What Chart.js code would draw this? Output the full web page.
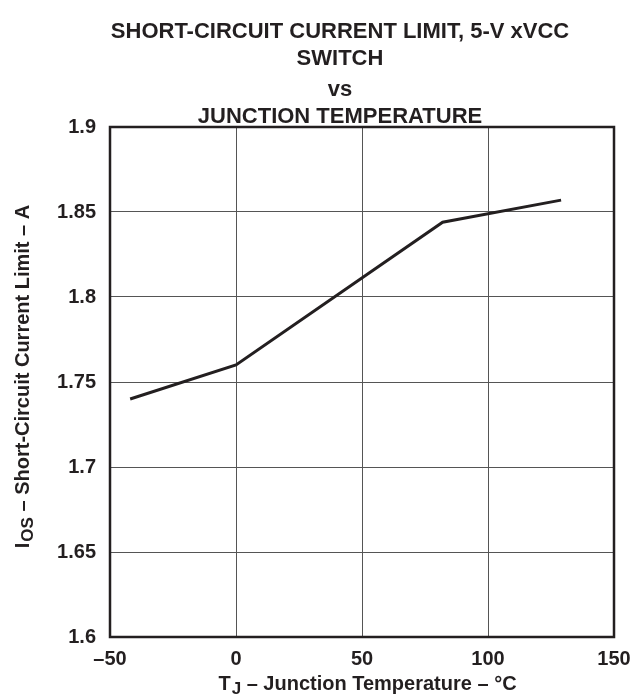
<!DOCTYPE html>
<html>
<head>
<meta charset="utf-8">
<script src="https://cdn.jsdelivr.net/npm/chart.js@4.4.1/dist/chart.umd.min.js"></script>
<style>
  html, body { margin: 0; padding: 0; background: #fff; }
  #wrap { width: 633px; height: 694px; }
</style>
</head>
<body>
<div id="wrap"><canvas id="limit"></canvas></div>
<script>
// Short-circuit current limit vs junction temperature
const tempC = [-42, 0, 82, 129];
const limitA = [1.740, 1.760, 1.844, 1.857];
const xTicks = [-50, 0, 50, 100, 150];
const yTicks = [1.6, 1.65, 1.7, 1.75, 1.8, 1.85, 1.9];
const titleLines = ['SHORT-CIRCUIT CURRENT LIMIT, 5-V xVCC', 'SWITCH', 'vs', 'JUNCTION TEMPERATURE'];

const FONT = '"Liberation Sans", Arial, sans-serif';
const INK = '#231f20';

// text with a lowered subscript part, e.g. T + J
function subText(ctx, x, y, main, sub, rest, size) {
    const small = Math.round(size * 0.85);
    ctx.font = 'bold ' + size + 'px ' + FONT;
    const w1 = ctx.measureText(main).width;
    const w3 = ctx.measureText(rest).width;
    ctx.font = 'bold ' + small + 'px ' + FONT;
    const w2 = ctx.measureText(sub).width;
    const x0 = x - (w1 + w2 + w3) / 2;
    ctx.textAlign = 'left';
    ctx.font = 'bold ' + size + 'px ' + FONT;
    ctx.fillText(main, x0, y);
    ctx.font = 'bold ' + small + 'px ' + FONT;
    ctx.fillText(sub, x0 + w1 + 1, y + 4);
    ctx.font = 'bold ' + size + 'px ' + FONT;
    ctx.fillText(rest, x0 + w1 + w2 + 1, y);
}

const frame = {
    id: 'frame',
    afterDraw(chart) {
        const { ctx, chartArea: a } = chart;
        ctx.save();
        // box round the plot
        ctx.strokeStyle = INK;
        ctx.lineWidth = 2.5;
        ctx.strokeRect(a.left, a.top, a.right - a.left, a.bottom - a.top);

        ctx.fillStyle = INK;
        ctx.textBaseline = 'alphabetic';
        ctx.textAlign = 'center';
        ctx.font = 'bold 22px ' + FONT;
        const base = [38, 65, 96, 123];
        titleLines.forEach((t, i) => ctx.fillText(t, 340, base[i]));

        subText(ctx, 367, 690, 'T', 'J', ' \u2013 Junction Temperature \u2013 \u00b0C', 20);

        ctx.translate(29, 377);
        ctx.rotate(-Math.PI / 2);
        subText(ctx, 0, 0, 'I', 'OS', ' \u2013 Short-Circuit Current Limit \u2013 A', 20);
        ctx.restore();
    }
};

new Chart('limit', {
    type: 'line',
    data: {
        datasets: [{
            data: tempC.map((t, i) => ({ x: t, y: limitA[i] })),
            borderColor: INK,
            borderWidth: 3,
            pointRadius: 0,
            tension: 0,
            fill: false
        }]
    },
    options: {
        responsive: true,
        maintainAspectRatio: false,
        animation: false,
        layout: { padding: { left: 0, top: 127, right: 19, bottom: 0 } },
        plugins: {
            legend: { display: false },
            tooltip: { enabled: false }
        },
        scales: {
            x: {
                type: 'linear',
                min: -50,
                max: 150,
                afterFit: s => { s.height = 57; s.paddingLeft = 0; s.paddingRight = 0; },
                afterBuildTicks: s => { s.ticks = xTicks.map(v => ({ value: v })); },
                ticks: {
                    color: INK,
                    padding: 10,
                    maxRotation: 0,
                    font: { family: FONT, size: 20, weight: 'bold' },
                    callback: v => String(v).replace('-', '\u2013')
                },
                grid: { color: '#555', lineWidth: 1, drawTicks: false },
                border: { display: false }
            },
            y: {
                min: 1.6,
                max: 1.9,
                afterFit: s => { s.width = 110; s.paddingTop = 0; s.paddingBottom = 0; },
                afterBuildTicks: s => { s.ticks = yTicks.map(v => ({ value: v })); },
                ticks: {
                    color: INK,
                    padding: 14,
                    font: { family: FONT, size: 20, weight: 'bold' },
                    callback: v => String(Number(v.toFixed(2)))
                },
                grid: { color: '#555', lineWidth: 1, drawTicks: false },
                border: { display: false }
            }
        }
    },
    plugins: [frame]
});
</script>
</body>
</html>
